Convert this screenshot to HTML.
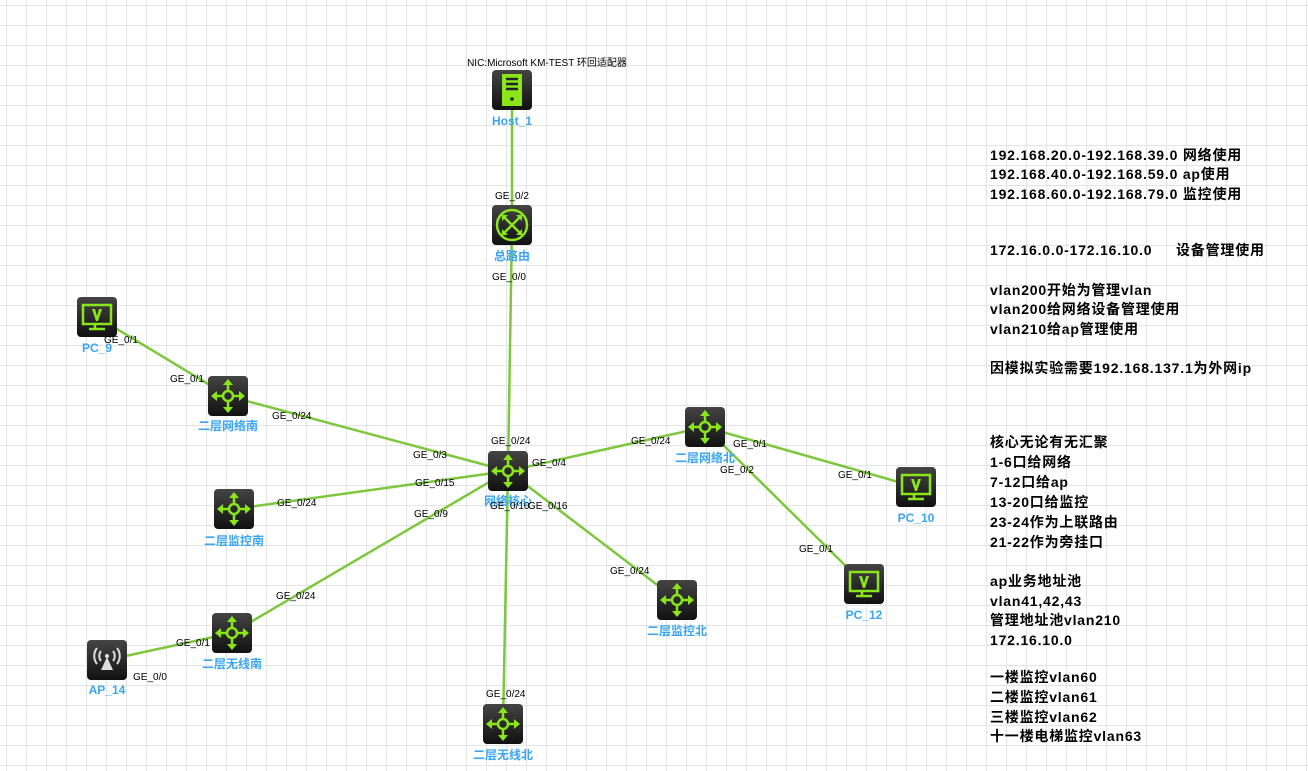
<!DOCTYPE html>
<html><head><meta charset="utf-8"><style>
html,body{margin:0;padding:0;background:#fff;}
svg{display:block;font-family:"Liberation Sans","Noto Sans CJK SC",sans-serif;}
.p{font-size:10px;fill:#000;}
.n{font-size:12px;font-weight:bold;fill:#3aa6f2;text-anchor:middle;}
.r{font-size:14px;font-weight:bold;fill:#000;letter-spacing:0.8px;}
</style></head><body>
<svg width="1308" height="771" viewBox="0 0 1308 771" xmlns="http://www.w3.org/2000/svg">
<defs>
<pattern id="g" x="6" y="5" width="20" height="20" patternUnits="userSpaceOnUse">
<path d="M0 0H20M0 0V20" stroke="#e4e4e4" stroke-width="2" fill="none"/>
</pattern>
<linearGradient id="bg" x1="0" y1="0" x2="0" y2="1"><stop offset="0" stop-color="#444"/><stop offset="1" stop-color="#111"/></linearGradient>
<g id="box"><rect x="-20" y="-20" width="40" height="40" rx="4" fill="url(#bg)"/></g>
<g id="sw"><use href="#box"/>
<g stroke="#8ae619" stroke-width="2.5" fill="none"><circle r="5"/><path d="M0 -5V-14M0 5V14M-5 0H-14M5 0H14"/></g>
<g fill="#8ae619"><path d="M0 -17L-5 -11H5Z M0 17L-5 11H5Z M-17 0L-11 -5V5Z M17 0L11 -5V5Z"/></g></g>
<g id="rt"><use href="#box"/><circle r="15" stroke="#8ae619" stroke-width="2.5" fill="none"/>
<g stroke="#8ae619" stroke-width="2.5"><path d="M-9 -9L9 9M9 -9L-9 9"/></g>
<g fill="#8ae619"><path d="M-10 -10h6l-6 6z M10 10h-6l6 -6z M10 -10v6l-6 -6z M-10 10v-6l6 6z"/></g></g>
<g id="pc"><use href="#box"/><rect x="-14" y="-12" width="28" height="19" fill="none" stroke="#8ae619" stroke-width="2.5"/>
<path d="M-5 -8L-1 4H1L5 -8H2L0 -1L-2 -8Z" fill="#8ae619"/><path d="M-2 7V11M-8 12H8" stroke="#8ae619" stroke-width="2.5"/></g>
<g id="sv"><use href="#box"/><rect x="-10" y="-16" width="20" height="32" fill="#8ae619"/>
<path d="M-6 -11H6M-6 -6H6M-6 -1H6" stroke="#222" stroke-width="2.5"/><circle cy="9" r="1.8" fill="#222"/></g>
<g id="ap"><use href="#box"/><path d="M0 -3L-6 10H6Z" fill="#ddd"/>
<g stroke="#ddd" stroke-width="2" fill="none"><path d="M-6 -9a8 8 0 0 0 0 10M6 -9a8 8 0 0 1 0 10M-10 -12a13 13 0 0 0 0 16M10 -12a13 13 0 0 1 0 16"/></g><circle cy="-4" r="2" fill="#ddd"/></g>
</defs>
<rect width="1308" height="771" fill="#fff"/>
<rect width="1308" height="771" fill="url(#g)"/>
<g stroke="#7dc73c" stroke-width="2.5">
<line x1="512" y1="90" x2="512" y2="225"/>
<line x1="512" y1="225" x2="508" y2="471"/>
<line x1="97" y1="317" x2="228" y2="396"/>
<line x1="228" y1="396" x2="508" y2="471"/>
<line x1="234" y1="509" x2="508" y2="471"/>
<line x1="232" y1="633" x2="508" y2="471"/>
<line x1="107" y1="660" x2="232" y2="633"/>
<line x1="508" y1="471" x2="705" y2="427"/>
<line x1="705" y1="427" x2="916" y2="487"/>
<line x1="705" y1="427" x2="864" y2="584"/>
<line x1="508" y1="471" x2="677" y2="600"/>
<line x1="508" y1="471" x2="503" y2="724"/>
</g>
<use href="#sv" x="512" y="90"/>
<use href="#rt" x="512" y="225"/>
<use href="#sw" x="508" y="471"/>
<use href="#sw" x="228" y="396"/>
<use href="#sw" x="705" y="427"/>
<use href="#sw" x="234" y="509"/>
<use href="#sw" x="232" y="633"/>
<use href="#sw" x="677" y="600"/>
<use href="#sw" x="503" y="724"/>
<use href="#pc" x="97" y="317"/>
<use href="#pc" x="916" y="487"/>
<use href="#pc" x="864" y="584"/>
<use href="#ap" x="107" y="660"/>
<text x="547" y="66" style="font-size:10px" text-anchor="middle">NIC:Microsoft KM-TEST 环回适配器</text>
<text class="n" x="512" y="125">Host_1</text>
<text class="n" x="512" y="260">总路由</text>
<text class="n" x="508" y="505">网络核心</text>
<text class="n" x="228" y="430">二层网络南</text>
<text class="n" x="705" y="462">二层网络北</text>
<text class="n" x="234" y="545">二层监控南</text>
<text class="n" x="232" y="668">二层无线南</text>
<text class="n" x="677" y="635">二层监控北</text>
<text class="n" x="503" y="759">二层无线北</text>
<text class="n" x="97" y="352">PC_9</text>
<text class="n" x="916" y="522">PC_10</text>
<text class="n" x="864" y="619">PC_12</text>
<text class="n" x="107" y="694">AP_14</text>
<g class="p">
<text x="495" y="199">GE_0/2</text>
<text x="492" y="280">GE_0/0</text>
<text x="104" y="343">GE_0/1</text>
<text x="170" y="382">GE_0/1</text>
<text x="272" y="419">GE_0/24</text>
<text x="491" y="444">GE_0/24</text>
<text x="413" y="458">GE_0/3</text>
<text x="532" y="466">GE_0/4</text>
<text x="415" y="486">GE_0/15</text>
<text x="277" y="506">GE_0/24</text>
<text x="414" y="517">GE_0/9</text>
<text x="490" y="509">GE_0/10</text>
<text x="528" y="509">GE_0/16</text>
<text x="631" y="444">GE_0/24</text>
<text x="733" y="447">GE_0/1</text>
<text x="720" y="473">GE_0/2</text>
<text x="838" y="478">GE_0/1</text>
<text x="799" y="552">GE_0/1</text>
<text x="276" y="599">GE_0/24</text>
<text x="610" y="574">GE_0/24</text>
<text x="176" y="646">GE_0/1</text>
<text x="133" y="680">GE_0/0</text>
<text x="486" y="697">GE_0/24</text>
</g>
<g class="r">
<text x="990" y="160">192.168.20.0-192.168.39.0 网络使用</text>
<text x="990" y="179">192.168.40.0-192.168.59.0 ap使用</text>
<text x="990" y="199">192.168.60.0-192.168.79.0 监控使用</text>
<text x="990" y="255">172.16.0.0-172.16.10.0 </text>
<text x="1176" y="255">设备管理使用</text>
<text x="990" y="295">vlan200开始为管理vlan</text>
<text x="990" y="314">vlan200给网络设备管理使用</text>
<text x="990" y="334">vlan210给ap管理使用</text>
<text x="990" y="373">因模拟实验需要192.168.137.1为外网ip</text>
<text x="990" y="447">核心无论有无汇聚</text>
<text x="990" y="467">1-6口给网络</text>
<text x="990" y="487">7-12口给ap</text>
<text x="990" y="507">13-20口给监控</text>
<text x="990" y="527">23-24作为上联路由</text>
<text x="990" y="547">21-22作为旁挂口</text>
<text x="990" y="586">ap业务地址池</text>
<text x="990" y="606">vlan41,42,43</text>
<text x="990" y="625">管理地址池vlan210</text>
<text x="990" y="645">172.16.10.0</text>
<text x="990" y="682">一楼监控vlan60</text>
<text x="990" y="702">二楼监控vlan61</text>
<text x="990" y="722">三楼监控vlan62</text>
<text x="990" y="741">十一楼电梯监控vlan63</text>
</g>
</svg>
</body></html>
